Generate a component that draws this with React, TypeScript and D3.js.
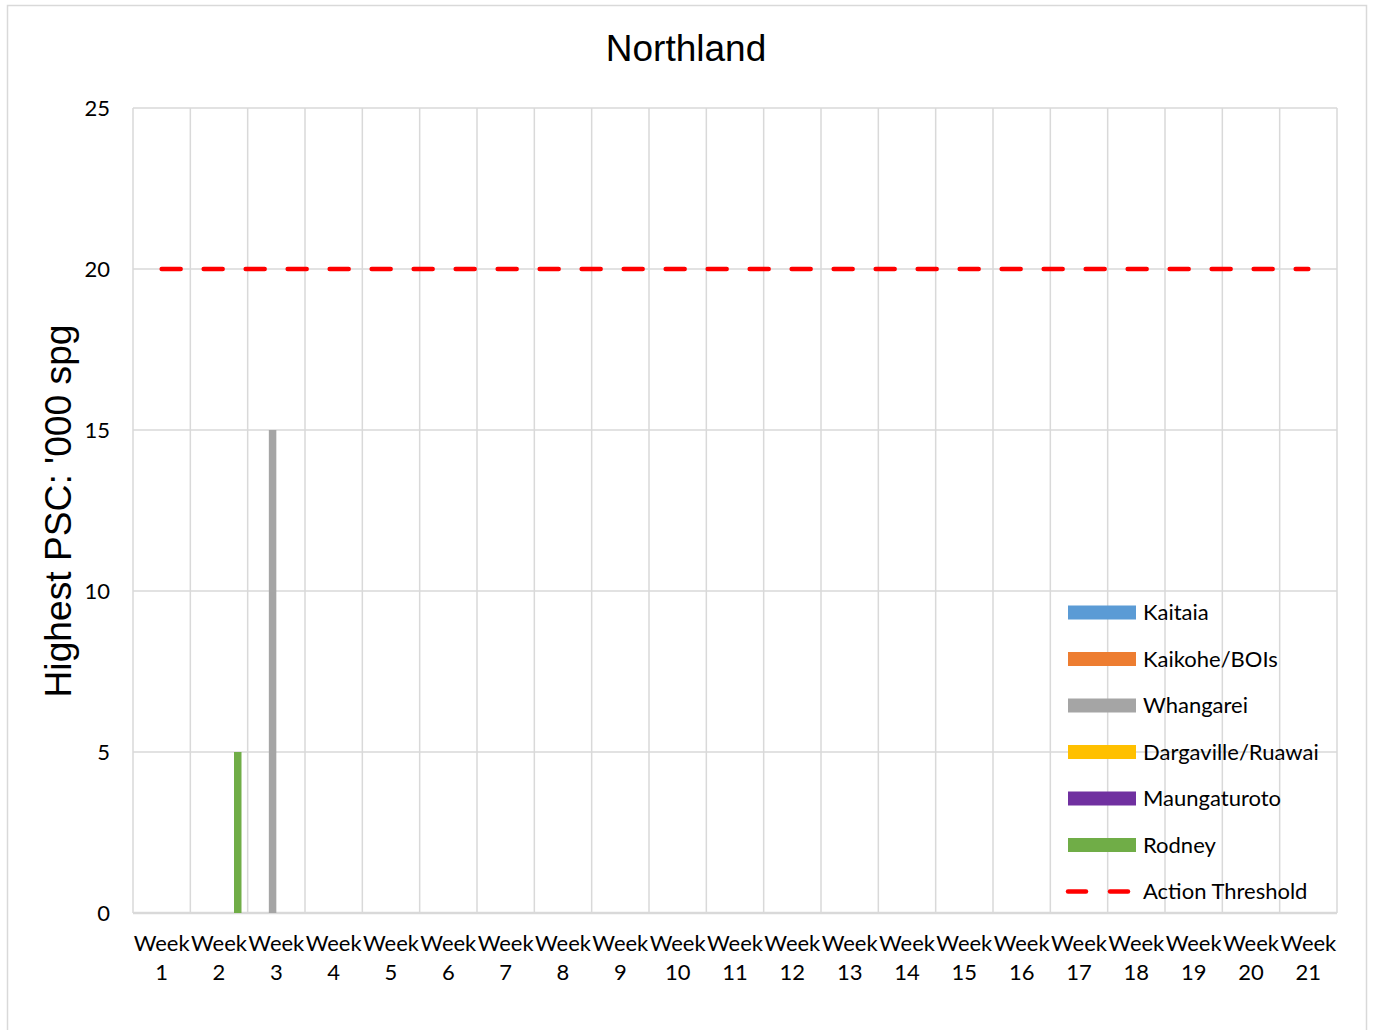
import React from "react";
import * as d3 from "d3";

const weeks = Array.from({ length: 21 }, (_, i) => `Week ${i + 1}`);
const seriesNames = ["Kaitaia", "Kaikohe/BOIs", "Whangarei", "Dargaville/Ruawai", "Maungaturoto", "Rodney"];
const seriesColors = ["#5B9BD5", "#ED7D31", "#A5A5A5", "#FFC000", "#7030A0", "#70AD47"];
const kaitaia = [0, 0, 0, 0, 0, 0, 0, 0, 0, 0, 0, 0, 0, 0, 0, 0, 0, 0, 0, 0, 0];
const kaikohe = [0, 0, 0, 0, 0, 0, 0, 0, 0, 0, 0, 0, 0, 0, 0, 0, 0, 0, 0, 0, 0];
const whangarei = [0, 0, 15, 0, 0, 0, 0, 0, 0, 0, 0, 0, 0, 0, 0, 0, 0, 0, 0, 0, 0];
const dargaville = [0, 0, 0, 0, 0, 0, 0, 0, 0, 0, 0, 0, 0, 0, 0, 0, 0, 0, 0, 0, 0];
const maungaturoto = [0, 0, 0, 0, 0, 0, 0, 0, 0, 0, 0, 0, 0, 0, 0, 0, 0, 0, 0, 0, 0];
const rodney = [0, 5, 0, 0, 0, 0, 0, 0, 0, 0, 0, 0, 0, 0, 0, 0, 0, 0, 0, 0, 0];
const actionThreshold = [20, 20, 20, 20, 20, 20, 20, 20, 20, 20, 20, 20, 20, 20, 20, 20, 20, 20, 20, 20, 20];
const yTicks = [0, 5, 10, 15, 20, 25];

const seriesValues = [kaitaia, kaikohe, whangarei, dargaville, maungaturoto, rodney];

const W = 1375;
const H = 1030;
const L = 133, R = 1337, T = 108, B = 913;
const tickFont = "Lato, 'Open Sans', sans-serif";
const titleFont = "'Liberation Sans', Arial, sans-serif";
const grid = "#d9d9d9";
const fs = 22;

export default function App() {
  const x = d3.scaleBand<string>().domain(weeks).range([L, R]).padding(0);
  const bw = x.bandwidth();
  const xs = d3.scaleBand<string>().domain(seriesNames).range([0, bw]).paddingInner(0).paddingOuter(0.822);
  const y = d3.scaleLinear().domain([0, 25]).range([B, T]);
  const line = d3
    .line<number>()
    .x((_, i) => (x(weeks[i]) as number) + bw / 2)
    .y((d) => y(d));

  const legendRows = [...seriesNames, "Action Threshold"];
  const legendY0 = 612.5;
  const legendStep = 46.5;

  return (
    <svg width={W} height={H} style={{ position: "absolute", left: 0, top: 0, background: "#fff" }}>
      <rect x={0} y={0} width={W} height={H} fill="#fff" />
      <rect x={7.5} y={5.5} width={1359} height={1040} fill="#fff" stroke={grid} strokeWidth={1.5} />
      <text x={686} y={61} textAnchor="middle" fontFamily={titleFont} fontSize={37} fill="#000">
        Northland
      </text>
      <text
        transform={`translate(71, 511) rotate(-90)`}
        textAnchor="middle"
        fontFamily={titleFont}
        fontSize={37.2}
        fill="#000"
      >
        Highest PSC: '000 spg
      </text>
      {yTicks.map((t) => (
        <line key={"h" + t} x1={L} x2={R} y1={y(t)} y2={y(t)} stroke={grid} strokeWidth={t === 0 ? 2.5 : 1.5} />
      ))}
      {d3.range(weeks.length + 1).map((i) => {
        const xx = L + i * bw;
        return <line key={"v" + i} x1={xx} x2={xx} y1={T} y2={B} stroke={grid} strokeWidth={1.5} />;
      })}
      {yTicks.map((t) => (
        <text key={"yt" + t} x={110} y={y(t) + 7.5} textAnchor="end" fontFamily={tickFont} fontSize={fs} fill="#000">
          {t}
        </text>
      ))}
      {weeks.map((w, i) => {
        const cx = (x(w) as number) + bw / 2;
        const parts = w.split(" ");
        return (
          <g key={"xt" + i}>
            <text x={cx} y={951} textAnchor="middle" fontFamily={tickFont} fontSize={fs} fill="#000">
              {parts[0]}
            </text>
            <text x={cx} y={980} textAnchor="middle" fontFamily={tickFont} fontSize={fs} fill="#000">
              {parts[1]}
            </text>
          </g>
        );
      })}
      {seriesValues.map((vals, si) =>
        vals.map((v, i) =>
          v > 0 ? (
            <rect
              key={`b${si}-${i}`}
              x={(x(weeks[i]) as number) + (xs(seriesNames[si]) as number)}
              y={y(v)}
              width={xs.bandwidth()}
              height={y(0) - y(v)}
              fill={seriesColors[si]}
            />
          ) : null
        )
      )}
      <path
        d={line(actionThreshold) as string}
        fill="none"
        stroke="#FF0000"
        strokeWidth={4.5}
        strokeDasharray="19 23"
        strokeLinecap="round"
      />
      {legendRows.map((name, i) => {
        const cy = legendY0 + i * legendStep;
        return (
          <g key={"lg" + i}>
            {i < seriesNames.length ? (
              <rect x={1068} y={cy - 7} width={68} height={14} fill={seriesColors[i]} />
            ) : (
              <g>
                <line x1={1068} x2={1086} y1={cy} y2={cy} stroke="#FF0000" strokeWidth={4.5} strokeLinecap="round" />
                <line x1={1110} x2={1128} y1={cy} y2={cy} stroke="#FF0000" strokeWidth={4.5} strokeLinecap="round" />
              </g>
            )}
            <text x={1143} y={cy + 7.5} fontFamily={tickFont} fontSize={fs} fill="#000">
              {name}
            </text>
          </g>
        );
      })}
    </svg>
  );
}
